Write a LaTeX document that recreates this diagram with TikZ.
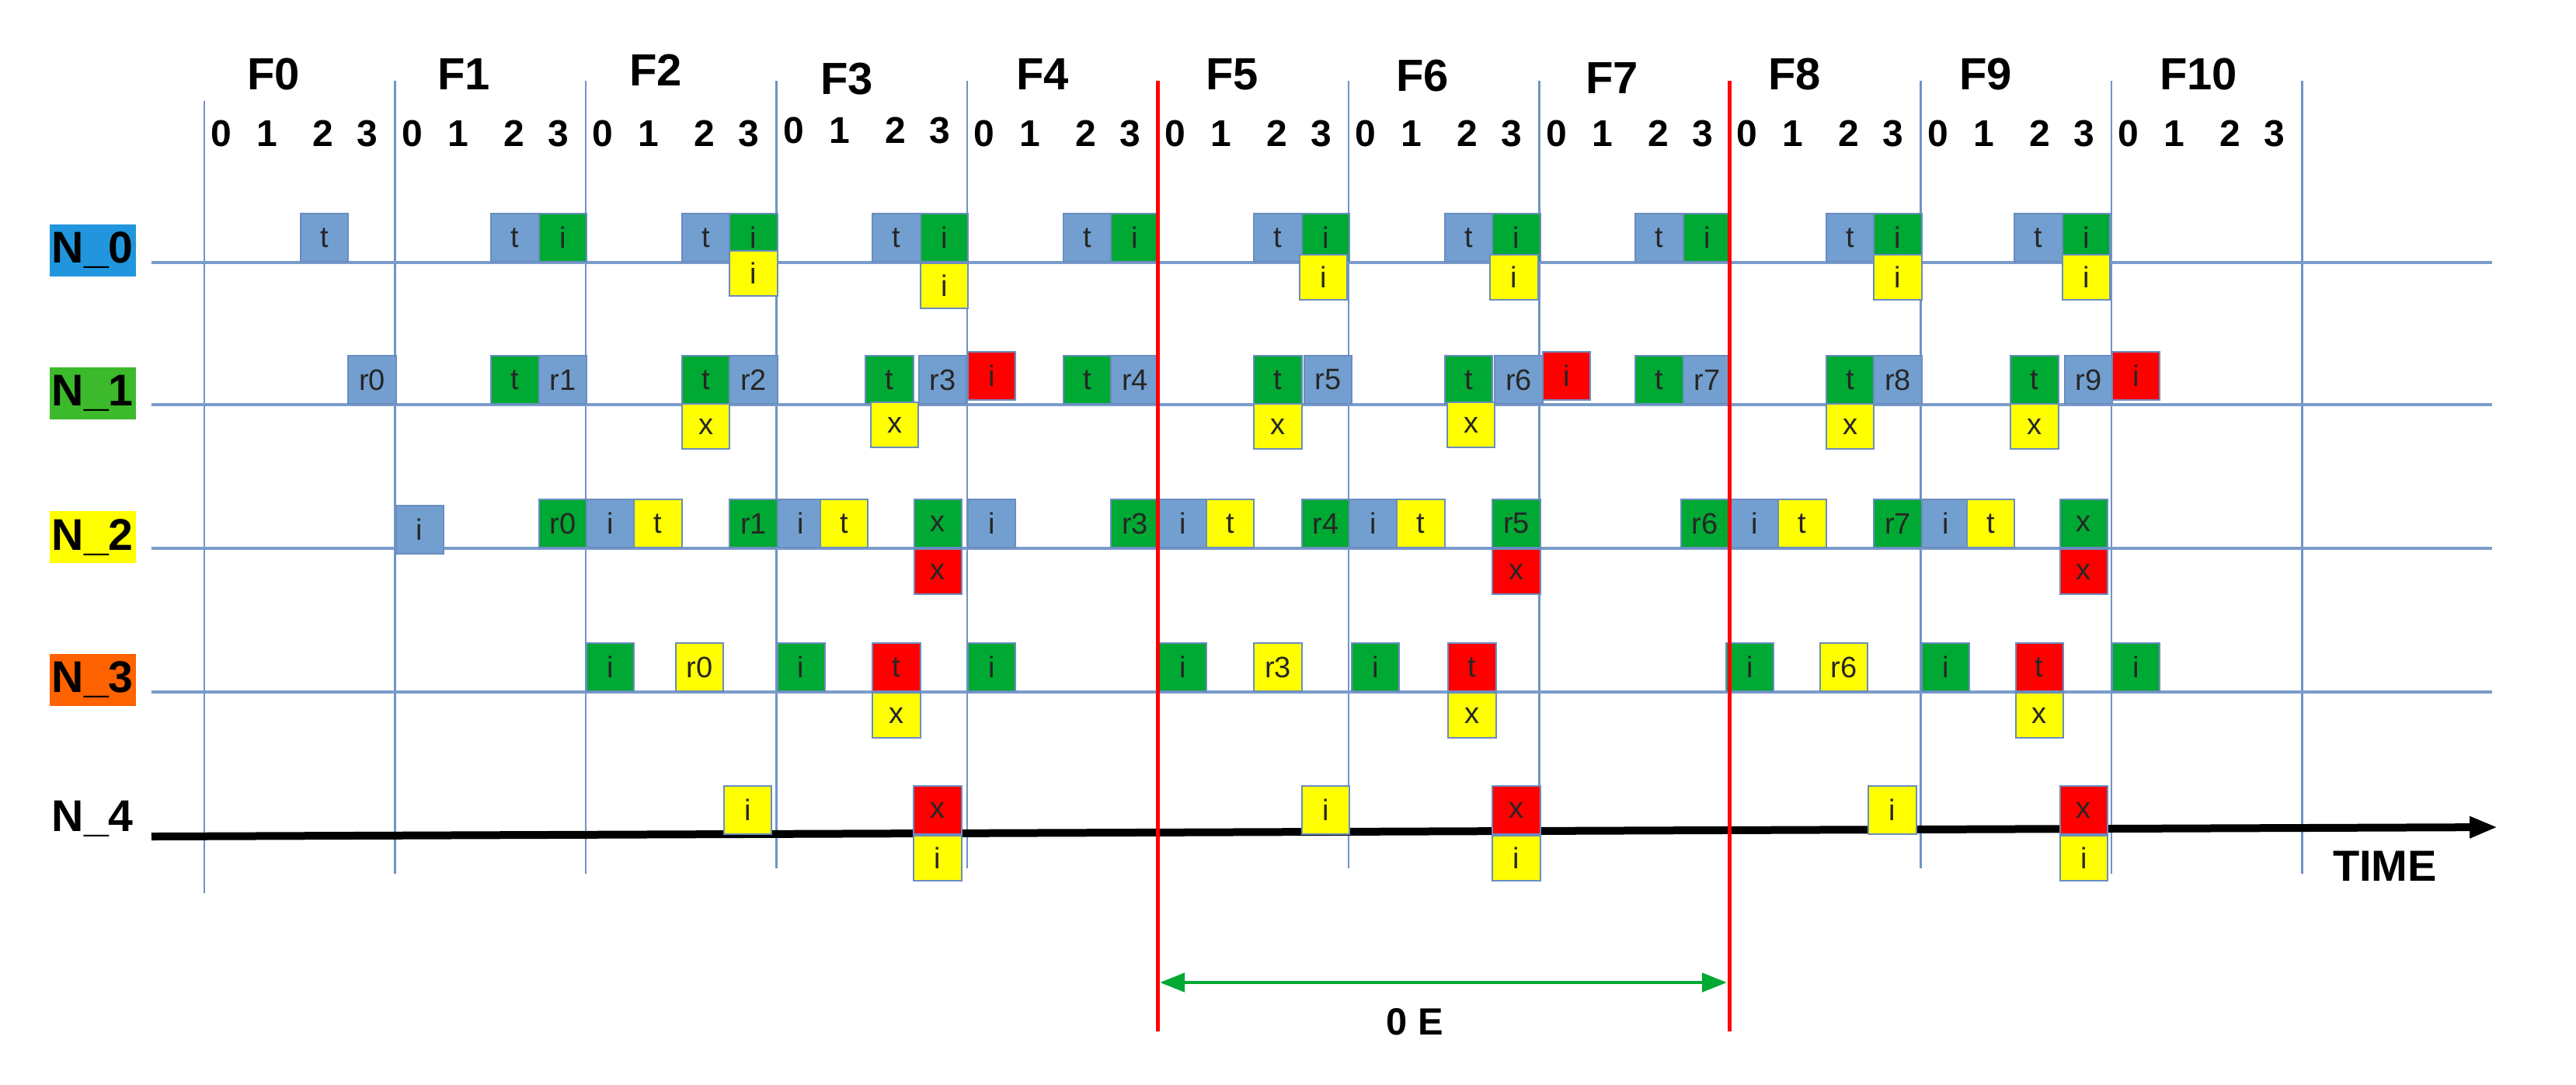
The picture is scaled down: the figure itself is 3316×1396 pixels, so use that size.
\documentclass[tikz,border=0pt]{standalone}
\usepackage{fontspec}
\setmainfont{Liberation Sans}
\usetikzlibrary{arrows.meta}
\definecolor{cblue}{HTML}{729FCF}
\definecolor{cgreen}{HTML}{00A933}
\definecolor{cyel}{HTML}{FFFF00}
\definecolor{cred}{HTML}{FF0000}
\definecolor{gridc}{HTML}{6F93C6}
\definecolor{rowc}{HTML}{7A9CCB}
\definecolor{bordc}{HTML}{6A8CC0}
\definecolor{labA}{HTML}{2196DE}
\definecolor{labB}{HTML}{3CBA2C}
\definecolor{labC}{HTML}{FFFF00}
\definecolor{labD}{HTML}{FF6200}
\definecolor{arrg}{HTML}{00A933}
\newcommand{\cellA}[6]{\node[cellbox,fill=#5,anchor=south west] (#1) at ({263+245.5*(#2)+61.4*(#3)},#4) {#6};}
\newcommand{\cellB}[6]{\node[cellbox,fill=#5,anchor=north west,minimum height=14.5pt] (#1) at ({263+245.5*(#2)+61.4*(#3)},#4) {#6};}
\tikzset{
  cellbox/.style={draw=bordc,line width=0.5pt,minimum width=15.35pt,minimum height=15.5pt,inner sep=0pt,font=\fontsize{9.5}{10}\selectfont,text=black!85},
  lab/.style={font=\bfseries\fontsize{14.3}{15}\selectfont,inner xsep=0.75pt,inner ysep=0pt,minimum height=16.75pt},
  flab/.style={font=\bfseries\fontsize{14.5}{15}\selectfont,inner sep=0pt},
  digit/.style={font=\bfseries\fontsize{12}{13}\selectfont,inner sep=0pt},
  gridline/.style={draw=gridc,line width=0.6pt},
  rowline/.style={draw=rowc,line width=1pt},
  redline/.style={draw=cred,line width=1.25pt}
}
\begin{document}
\begin{tikzpicture}[x=0.25pt,y=-0.25pt]
\useasboundingbox (0,0) rectangle (3316,1396);
% frame lines
\foreach \f/\t/\b in {0/130/1150,1/104/1125,2/104/1125,3/104/1118,4/104/1118,6/104/1118,7/104/1118,9/104/1118,10/104/1125,11/104/1125}{
  \coordinate (vt\f) at ({263+245.5*\f},\t);
  \coordinate (vb\f) at ({263+245.5*\f},\b);
  \draw[gridline] (vt\f) -- (vb\f);
}
% row lines
\foreach \r/\y in {0/338,1/521,2/706,3/891}{
  \coordinate (ra\r) at (195,\y);
  \coordinate (rb\r) at (3208,\y);
  \draw[rowline] (ra\r) -- (rb\r);
}
\coordinate (ta) at (195,1077);
\coordinate (tb) at (3215,1065);
\draw[line width=2.5pt,-{Triangle[length=9pt,width=6.5pt]}] (ta) -- (tb);
% frame labels
\node[flab] (F0) at (352,96) {F0};
\node[flab] (F1) at (597,96) {F1};
\node[flab] (F2) at (844,90) {F2};
\node[flab] (F3) at (1090,102) {F3};
\node[flab] (F4) at (1342,96) {F4};
\node[flab] (F5) at (1586,96) {F5};
\node[flab] (F6) at (1831,98) {F6};
\node[flab] (F7) at (2075,101) {F7};
\node[flab] (F8) at (2310,96) {F8};
\node[flab] (F9) at (2556,96) {F9};
\node[flab] (F10) at (2830,96) {F10};
% slot digits
\foreach \f in {0,...,10}{
  \pgfmathsetmacro{\dy}{\f==3 ? 168 : 172}
  \foreach \s/\r in {0/22,1/81,2/153,3/210}{
    \node[digit] (d\f-\s) at ({263+245.5*\f+\r},\dy) {\s};
  }
}
% node labels
\node[lab,fill=labA,anchor=west] (L0) at (63,322.5) {N\_0};
\node[lab,fill=labB,anchor=west] (L1) at (63,506.5) {N\_1};
\node[lab,fill=labC,anchor=west] (L2) at (63,691.5) {N\_2};
\node[lab,fill=labD,anchor=west] (L3) at (63,875) {N\_3};
\node[lab,anchor=west] (L4) at (63,1054) {N\_4};
% ---- N_0 row
\cellA{a0t}{0}{2}{338}{cblue}{t}
\cellA{a1t}{1}{2}{338}{cblue}{t}
\cellA{a1i}{1}{3}{338}{cgreen}{i}
\cellA{a2t}{2}{2}{338}{cblue}{t}
\cellA{a2i}{2}{3}{338}{cgreen}{i}
\cellB{a2u}{2}{3}{322}{cyel}{i}
\cellA{a3t}{3}{2}{338}{cblue}{t}
\cellA{a3i}{3}{3}{338}{cgreen}{i}
\cellB{a3u}{3}{3}{338}{cyel}{i}
\cellA{a4t}{4}{2}{338}{cblue}{t}
\cellA{a4i}{4}{3}{338}{cgreen}{i}
\cellA{a5t}{5}{2}{338}{cblue}{t}
\cellA{a5i}{5}{3}{338}{cgreen}{i}
\cellB{a5u}{5}{2.95}{327}{cyel}{i}
\cellA{a6t}{6}{2}{338}{cblue}{t}
\cellA{a6i}{6}{3}{338}{cgreen}{i}
\cellB{a6u}{6}{2.95}{327}{cyel}{i}
\cellA{a7t}{7}{2}{338}{cblue}{t}
\cellA{a7i}{7}{3}{338}{cgreen}{i}
\cellA{a8t}{8}{2}{338}{cblue}{t}
\cellA{a8i}{8}{3}{338}{cgreen}{i}
\cellB{a8u}{8}{3}{327}{cyel}{i}
\cellA{a9t}{9}{1.95}{338}{cblue}{t}
\cellA{a9i}{9}{2.95}{338}{cgreen}{i}
\cellB{a9u}{9}{2.95}{327}{cyel}{i}
% ---- N_1 row
\cellA{b0r}{0}{3}{521}{cblue}{r0}
\cellA{b1t}{1}{2}{521}{cgreen}{t}
\cellA{b1r}{1}{3}{521}{cblue}{r1}
\cellA{b2t}{2}{2}{521}{cgreen}{t}
\cellA{b2r}{2}{3}{521}{cblue}{r2}
\cellB{b2u}{2}{2}{519}{cyel}{x}
\cellA{b3t}{3}{1.85}{521}{cgreen}{t}
\cellA{b3r}{3}{2.97}{521}{cblue}{r3}
\cellB{b3u}{3}{1.96}{517}{cyel}{x}
\cellA{b3e}{4}{0}{516}{cred}{i}
\cellA{b4t}{4}{2}{521}{cgreen}{t}
\cellA{b4r}{4}{3}{521}{cblue}{r4}
\cellA{b5t}{5}{2}{521}{cgreen}{t}
\cellA{b5r}{5}{3.05}{521}{cblue}{r5}
\cellB{b5u}{5}{2}{519}{cyel}{x}
\cellA{b6t}{6}{2}{521}{cgreen}{t}
\cellA{b6r}{6}{3.05}{521}{cblue}{r6}
\cellB{b6u}{6}{2.05}{517}{cyel}{x}
\cellA{b6e}{7}{0.05}{516}{cred}{i}
\cellA{b7t}{7}{2}{521}{cgreen}{t}
\cellA{b7r}{7}{3}{521}{cblue}{r7}
\cellA{b8t}{8}{2}{521}{cgreen}{t}
\cellA{b8r}{8}{3}{521}{cblue}{r8}
\cellB{b8u}{8}{2}{519}{cyel}{x}
\cellA{b9t}{9}{1.87}{521}{cgreen}{t}
\cellA{b9r}{9}{3}{521}{cblue}{r9}
\cellB{b9u}{9}{1.87}{519}{cyel}{x}
\cellA{b9e}{10}{0}{516}{cred}{i}
% ---- N_2 row
\cellA{c1i}{1}{0}{714}{cblue}{i}
\cellA{c1r}{1}{3}{706}{cgreen}{r0}
\cellA{c2i}{2}{0}{706}{cblue}{i}
\cellA{c2t}{2}{1}{706}{cyel}{t}
\cellA{c2r}{2}{3}{706}{cgreen}{r1}
\cellA{c3i}{3}{0}{706}{cblue}{i}
\cellA{c3t}{3}{0.9}{706}{cyel}{t}
\cellA{c3x}{3}{2.87}{706}{cgreen}{x}
\cellB{c3u}{3}{2.87}{706}{cred}{x}
\cellA{c4i}{4}{0}{706}{cblue}{i}
\cellA{c4r}{4}{3}{706}{cgreen}{r3}
\cellA{c5i}{5}{0}{706}{cblue}{i}
\cellA{c5t}{5}{1}{706}{cyel}{t}
\cellA{c5r}{5}{3}{706}{cgreen}{r4}
\cellA{c6i}{6}{0}{706}{cblue}{i}
\cellA{c6t}{6}{1}{706}{cyel}{t}
\cellA{c6r}{6}{3}{706}{cgreen}{r5}
\cellB{c6u}{6}{3}{706}{cred}{x}
\cellA{c7r}{7}{2.95}{706}{cgreen}{r6}
\cellA{c8i}{8}{0}{706}{cblue}{i}
\cellA{c8t}{8}{1}{706}{cyel}{t}
\cellA{c8r}{8}{3}{706}{cgreen}{r7}
\cellA{c9i}{9}{0}{706}{cblue}{i}
\cellA{c9t}{9}{0.95}{706}{cyel}{t}
\cellA{c9x}{9}{2.9}{706}{cgreen}{x}
\cellB{c9u}{9}{2.9}{706}{cred}{x}
% ---- N_3 row
\cellA{d2i}{2}{0}{891}{cgreen}{i}
\cellA{d2r}{2}{1.87}{891}{cyel}{r0}
\cellA{d3i}{3}{0}{891}{cgreen}{i}
\cellA{d3t}{3}{2}{891}{cred}{t}
\cellB{d3u}{3}{2}{891}{cyel}{x}
\cellA{d4i}{4}{0}{891}{cgreen}{i}
\cellA{d5i}{5}{0}{891}{cgreen}{i}
\cellA{d5r}{5}{2}{891}{cyel}{r3}
\cellA{d6i}{6}{0.05}{891}{cgreen}{i}
\cellA{d6t}{6}{2.07}{891}{cred}{t}
\cellB{d6u}{6}{2.07}{891}{cyel}{x}
\cellA{d8i}{8}{-0.1}{891}{cgreen}{i}
\cellA{d8r}{8}{1.87}{891}{cyel}{r6}
\cellA{d9i}{9}{0}{891}{cgreen}{i}
\cellA{d9t}{9}{1.97}{891}{cred}{t}
\cellB{d9u}{9}{1.97}{891}{cyel}{x}
\cellA{d10i}{10}{0}{891}{cgreen}{i}
% ---- N_4 row
\cellA{e2i}{2}{2.88}{1075}{cyel}{i}
\cellA{e3x}{3}{2.86}{1075}{cred}{x}
\cellB{e3u}{3}{2.86}{1075}{cyel}{i}
\cellA{e5i}{5}{3}{1075}{cyel}{i}
\cellA{e6x}{6}{3}{1075}{cred}{x}
\cellB{e6u}{6}{3}{1075}{cyel}{i}
\cellA{e8i}{8}{2.89}{1075}{cyel}{i}
\cellA{e9x}{9}{2.9}{1075}{cred}{x}
\cellB{e9u}{9}{2.9}{1075}{cyel}{i}
% red epoch lines
\coordinate (pa) at (1490.5,104);
\coordinate (pb) at (1490.5,1328);
\coordinate (qa) at (2226,104);
\coordinate (qb) at (2226,1328);
\draw[redline] (pa) -- (pb);
\draw[redline] (qa) -- (qb);
% green span arrow
\coordinate (ga) at (1493,1265);
\coordinate (gb) at (2223,1265);
\draw[draw=arrg,line width=1.2pt,{Triangle[length=8pt,width=6pt]}-{Triangle[length=8pt,width=6pt]}] (ga) -- (gb);
\node[font=\bfseries\fontsize{12.2}{13}\selectfont,inner sep=0pt] (OE) at (1821,1316) {0 E};
\node[font=\bfseries\fontsize{14}{15}\selectfont,inner sep=0pt] (TIME) at (3070,1115) {TIME};
\end{tikzpicture}
\end{document}
